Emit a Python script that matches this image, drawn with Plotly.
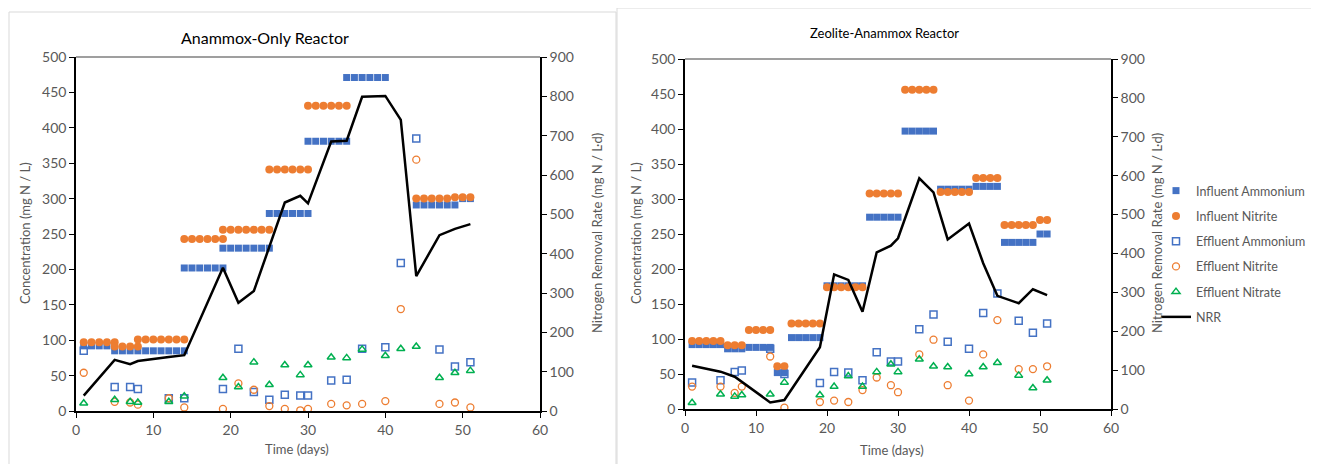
import plotly.graph_objects as go

# the page body has an 8px margin, so the figure is placed at (8, 8) of the window
OX, OY = 8, 8
W, H = 1319 - OX, 464 - OY

# ---------------- data ----------------
eff_days = [1, 5, 7, 8, 12, 14, 19, 21, 23, 25, 27, 29, 30, 33, 35, 37, 40, 42, 44, 47, 49, 51]

# Anammox-Only reactor
ao_inf_nh4_days = [1, 2, 3, 4, 5, 6, 7, 8, 9, 10, 11, 12, 13, 14, 14, 15, 16, 17, 18, 19,
                   19, 20, 21, 22, 23, 24, 25, 25, 26, 27, 28, 29, 30, 30, 31, 32, 33, 34, 35,
                   35, 36, 37, 38, 39, 40, 44, 45, 46, 47, 48, 49, 50, 51]
ao_inf_nh4 = [92, 92, 92, 92, 85, 85, 85, 85, 85, 85, 85, 85, 85, 85, 202, 202, 202, 202, 202, 202,
              230, 230, 230, 230, 230, 230, 230, 279, 279, 279, 279, 279, 279, 381, 381, 381, 381, 381, 381,
              471, 471, 471, 471, 471, 471, 291, 291, 291, 291, 291, 291, 300, 300]
ao_inf_no2_days = [1, 2, 3, 4, 5, 5, 6, 7, 8, 8, 9, 10, 11, 12, 13, 14, 14, 15, 16, 17, 18, 19,
                   19, 20, 21, 22, 23, 24, 25, 25, 26, 27, 28, 29, 30, 30, 31, 32, 33, 34, 35,
                   44, 45, 46, 47, 48, 49, 50, 51]
ao_inf_no2 = [97, 97, 97, 97, 97, 91, 91, 91, 91, 101, 101, 101, 101, 101, 101, 101, 243, 243, 243, 243, 243, 243,
              256, 256, 256, 256, 256, 256, 256, 341, 341, 341, 341, 341, 341, 431, 431, 431, 431, 431, 431,
              300, 300, 300, 300, 300, 302, 302, 302]
ao_eff_nh4 = [85, 34, 34, 31, 18, 18, 31, 88, 27, 16, 23, 22, 22, 43, 44, 88, 90, 209, 385, 87, 63, 69]
ao_eff_no2 = [54, 13, 12, 9, 18, 5, 3, 39, 30, 7, 3, 1, 3, 10, 8, 10, 14, 144, 355, 10, 12, 5]
ao_eff_no3 = [11, 16, 13, 12, 13, 21, 47, 34, 69, 37, 65, 51, 65, 76, 75, 87, 78, 88, 91, 47, 54, 57]
ao_nrr = [39, 130, 119, 127, 137, 142, 364, 275, 305, 417, 530, 547, 528, 685, 687, 799, 801, 740, 343, 447, 463, 475]

# Zeolite-Anammox reactor
za_inf_days = [1, 2, 3, 4, 5, 6, 7, 8, 9, 10, 11, 12, 13, 14, 15, 16, 17, 18, 19,
               20, 21, 22, 23, 24, 25, 26, 27, 28, 29, 30, 31, 32, 33, 34, 35,
               36, 37, 38, 39, 40, 41, 42, 43, 44, 45, 46, 47, 48, 49, 50, 51]
za_inf_nh4 = [92, 92, 92, 92, 92, 86, 86, 86, 88, 88, 88, 88, 52, 52, 102, 102, 102, 102, 102,
              176, 176, 176, 176, 176, 176, 274, 274, 274, 274, 274, 397, 397, 397, 397, 397,
              314, 314, 314, 314, 314, 318, 318, 318, 318, 238, 238, 238, 238, 238, 250, 250]
za_inf_no2 = [97, 97, 97, 97, 97, 91, 91, 91, 113, 113, 113, 113, 61, 61, 122, 122, 122, 122, 122,
              174, 174, 174, 174, 174, 174, 308, 308, 308, 308, 308, 456, 456, 456, 456, 456,
              310, 310, 310, 310, 310, 330, 330, 330, 330, 263, 263, 263, 263, 263, 270, 270]
za_eff_nh4 = [38, 41, 53, 55, 86, 50, 37, 53, 52, 41, 81, 68, 68, 114, 135, 96, 86, 137, 165, 126, 109, 122]
za_eff_no2 = [32, 32, 23, 32, 75, 2, 10, 12, 10, 27, 45, 34, 24, 78, 99, 34, 12, 78, 127, 57, 57, 61]
za_eff_no3 = [9, 21, 18, 20, 21, 38, 20, 32, 47, 32, 53, 64, 53, 71, 61, 60, 50, 60, 66, 48, 30, 41]
za_nrr = [111, 96, 83, 70, 17, 23, 159, 346, 332, 250, 403, 420, 439, 593, 557, 436, 477, 375, 291, 272, 308, 293]

titles = ["Anammox-Only Reactor", "Zeolite-Anammox Reactor"]
names = ["Influent Ammonium", "Influent Nitrite", "Effluent Ammonium", "Effluent Nitrite", "Effluent Nitrate", "NRR"]

# ---------------- styling ----------------
BLUE, ORANGE, GREEN = "#4472C4", "#ED7D31", "#00B050"
FONT = "Lato"
GREY = "#595959"


def px(x):
    """window pixel x -> paper fraction"""
    return (x - OX) / W


def py(y):
    """window pixel y (from top) -> paper fraction"""
    return (H - (y - OY)) / H


fig = go.Figure()


def add_panel(sfx_x, ya, yb, inf_nh4_d, inf_nh4, inf_no2_d, inf_no2, e_nh4, e_no2, e_no3, nrr, show):
    xa = "x" if sfx_x == 1 else f"x{sfx_x}"
    fig.add_trace(go.Scatter(x=inf_nh4_d, y=inf_nh4, mode="markers", name=names[0], xaxis=xa, yaxis=ya,
                             marker=dict(symbol="square", size=7, color=BLUE), showlegend=show, legendgroup="a"))
    fig.add_trace(go.Scatter(x=inf_no2_d, y=inf_no2, mode="markers", name=names[1], xaxis=xa, yaxis=ya,
                             marker=dict(symbol="circle", size=8, color=ORANGE), showlegend=show, legendgroup="b"))
    fig.add_trace(go.Scatter(x=eff_days, y=e_nh4, mode="markers", name=names[2], xaxis=xa, yaxis=ya,
                             marker=dict(symbol="square-open", size=7, color=BLUE, line=dict(width=1.5)),
                             showlegend=show, legendgroup="c"))
    fig.add_trace(go.Scatter(x=eff_days, y=e_no2, mode="markers", name=names[3], xaxis=xa, yaxis=ya,
                             marker=dict(symbol="circle-open", size=7, color=ORANGE, line=dict(width=1.3)),
                             showlegend=show, legendgroup="d"))
    fig.add_trace(go.Scatter(x=eff_days, y=e_no3, mode="markers", name=names[4], xaxis=xa, yaxis=ya,
                             marker=dict(symbol="triangle-up-open", size=7, color=GREEN, line=dict(width=1.5)),
                             showlegend=show, legendgroup="e"))
    fig.add_trace(go.Scatter(x=eff_days, y=nrr, mode="lines", name=names[5], xaxis=xa, yaxis=yb,
                             line=dict(color="black", width=2.5), showlegend=show, legendgroup="f"))


add_panel(1, "y", "y2", ao_inf_nh4_days, ao_inf_nh4, ao_inf_no2_days, ao_inf_no2,
          ao_eff_nh4, ao_eff_no2, ao_eff_no3, ao_nrr, False)
add_panel(2, "y3", "y4", za_inf_days, za_inf_nh4, za_inf_days, za_inf_no2,
          za_eff_nh4, za_eff_no2, za_eff_no3, za_nrr, True)

tickfont = dict(family=FONT, size=14, color=GREY)
common_x = dict(range=[0, 60], dtick=10, showgrid=False, zeroline=False, showline=True, linecolor="black",
                linewidth=1.5, ticks="outside", ticklen=5, tickcolor="black", tickfont=tickfont,
                automargin=False)
common_y = dict(showgrid=False, zeroline=False, showline=True, linecolor="black", linewidth=1.5,
                ticks="outside", ticklen=5, tickcolor="black", tickfont=tickfont, automargin=False)

# pixel geometry of plot areas (window coordinates)
L1, R1, T1, B1 = 76, 540, 57, 411
L2, R2, T2, B2 = 685, 1111, 59, 409

fig.update_layout(
    width=W, height=H, margin=dict(l=0, r=0, t=0, b=0, autoexpand=False),
    paper_bgcolor="white", plot_bgcolor="white",
    font=dict(family=FONT, color=GREY),
    xaxis=dict(domain=[px(L1), px(R1)], anchor="y", **common_x),
    yaxis=dict(domain=[py(B1), py(T1)], anchor="x", range=[0, 500], dtick=50, **common_y),
    yaxis2=dict(overlaying="y", side="right", anchor="x", range=[0, 900], dtick=100, **common_y),
    xaxis2=dict(domain=[px(L2), px(R2)], anchor="y3", **common_x),
    yaxis3=dict(domain=[py(B2), py(T2)], anchor="x2", range=[0, 500], dtick=50, **common_y),
    yaxis4=dict(overlaying="y3", side="right", anchor="x2", range=[0, 900], dtick=100, **common_y),
    legend=dict(x=px(1156), y=py(176), xanchor="left", yanchor="top", bgcolor="rgba(0,0,0,0)",
                font=dict(family=FONT, size=12.5, color=GREY), traceorder="grouped", tracegroupgap=6,
                itemwidth=30),
)

shapes = [
    # panel borders
    dict(type="rect", xref="paper", yref="paper", x0=px(9), x1=px(616), y0=-0.1, y1=py(12),
         line=dict(color="#D9D9D9", width=1), fillcolor="rgba(0,0,0,0)", layer="below"),
    dict(type="rect", xref="paper", yref="paper", x0=px(617), x1=1.1, y0=-0.1, y1=py(8),
         line=dict(color="#D9D9D9", width=1), fillcolor="rgba(0,0,0,0)", layer="below"),
    # top borders of plot areas
    dict(type="line", xref="paper", yref="paper", x0=px(L1), x1=px(R1), y0=py(T1), y1=py(T1),
         line=dict(color="#404040", width=1.2)),
    dict(type="line", xref="paper", yref="paper", x0=px(L2), x1=px(R2), y0=py(T2), y1=py(T2),
         line=dict(color="#404040", width=1.2)),
]
fig.update_layout(shapes=shapes)

C = dict(xref="paper", yref="paper", showarrow=False, xanchor="center", yanchor="middle")
ann = []
ann.append(dict(text=titles[0], x=px(265), y=py(37), font=dict(family=FONT, size=16, color="black"), **C))
ann.append(dict(text=titles[1], x=px(885), y=py(33), font=dict(family=FONT, size=13, color="black"), **C))
axfont = dict(family=FONT, size=13, color=GREY)
for xx, yy in [(25, 233), (636, 233)]:
    ann.append(dict(text="Concentration (mg N / L)", x=px(xx), y=py(yy), textangle=-90, font=axfont, **C))
for xx, yy in [(597, 233), (1157, 233)]:
    ann.append(dict(text="Nitrogen Removal Rate (mg N / L·d)", x=px(xx), y=py(yy), textangle=-90,
                    font=axfont, **C))
for xx, yy in [(297, 449), (892, 450)]:
    ann.append(dict(text="Time (days)", x=px(xx), y=py(yy), font=axfont, **C))
fig.update_layout(annotations=ann)

fig.write_html("out.html")
